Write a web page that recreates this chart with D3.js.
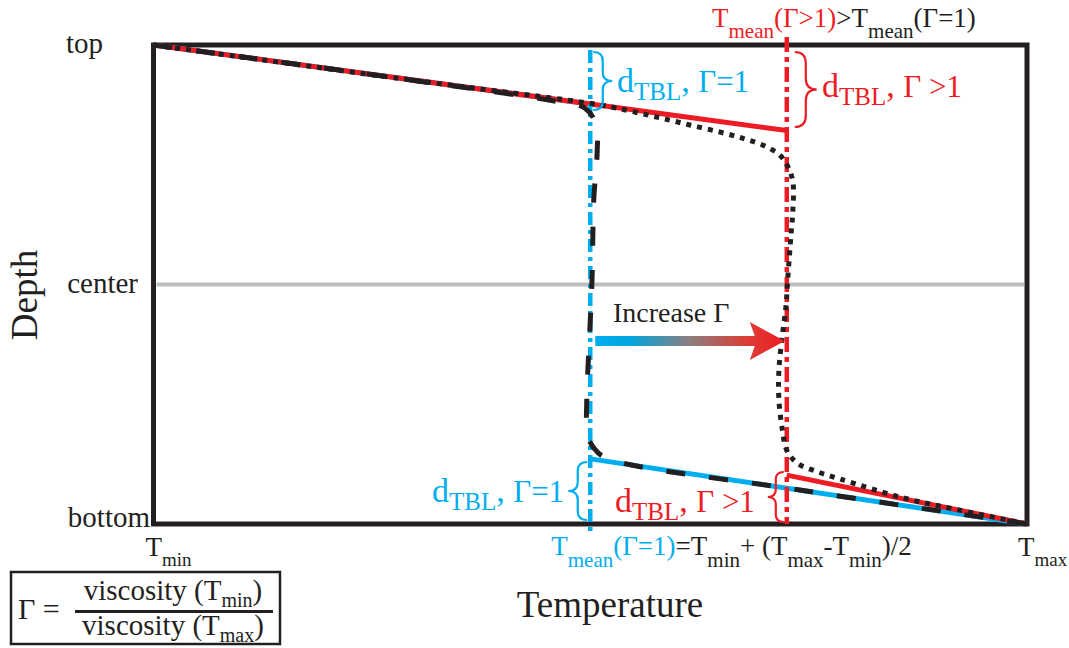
<!DOCTYPE html>
<html>
<head>
<meta charset="utf-8">
<script src="https://cdn.jsdelivr.net/npm/d3@7"></script>
<style>
  body { margin: 0; background: #fff; }
  svg { display: block; }
  text { font-family: "Liberation Serif", "Times New Roman", serif; }
</style>
</head>
<body>
<svg id="chart" width="1069" height="648"></svg>
<script>
// ---- data (temperature normalised 0 = Tmin .. 1 = Tmax, depth 0 = top .. 1 = bottom) ----
const depthTickLabels = ["top", "center", "bottom"];
const depthTickValues = [0, 0.5, 1];
const tempTickLabels = ["min", "max"];
const tempTickValues = [0, 1];

const tMeanIso = 0.5;      // mean temperature, Γ = 1
const tMeanVisc = 0.725;   // mean temperature, Γ > 1

// thermal boundary layer depths
const tblIsoTop = 0.123, tblIsoBottom = 0.864;
const tblViscTop = 0.1785, tblViscBottom = 0.898;

// temperature profile, Γ = 1 (dashed)
const isoT =     [0, 0.282, 0.465, 0.494, 0.507, 0.508, 0.504, 0.502, 0.499, 0.496, 0.497, 0.504, 0.518, 0.740, 0.923, 1];
const isoDepth = [0, 0.070, 0.119, 0.132, 0.167, 0.219, 0.324, 0.491, 0.616, 0.741, 0.814, 0.841, 0.862, 0.929, 0.979, 1];

// temperature profile, Γ > 1 (dotted)
const viscT =     [0, 0.282, 0.511, 0.546, 0.580, 0.614, 0.649, 0.677, 0.700, 0.717, 0.726, 0.732, 0.732, 0.730, 0.726, 0.724, 0.720, 0.716, 0.716, 0.720, 0.725, 0.737, 0.757, 0.786, 0.855, 0.923, 1];
const viscDepth = [0, 0.070, 0.125, 0.138, 0.152, 0.167, 0.182, 0.196, 0.211, 0.230, 0.253, 0.286, 0.344, 0.392, 0.491, 0.547, 0.605, 0.678, 0.741, 0.804, 0.846, 0.873, 0.889, 0.906, 0.944, 0.971, 1];

// ---- styling ----
const ink = "#231f20", blue = "#00aeef", red = "#ed1c24", gray = "#bcbec0";

const svg = d3.select("#chart");
const x = d3.scaleLinear().domain([0, 1]).range([153.5, 1027]);
const y = d3.scaleLinear().domain([0, 1]).range([45, 524]);

const zip = (a, b) => a.map((v, i) => [v, b[i]]);
const line = d3.line().x(d => x(d[0])).y(d => y(d[1]));
const smooth = d3.line().x(d => x(d[0])).y(d => y(d[1])).curve(d3.curveCatmullRom.alpha(0.5));

// text with sub-scripted runs
function rich(parent, px, py, segs, anchor) {
  const t = parent.append("text").attr("x", px).attr("y", py).attr("text-anchor", anchor || "start");
  let shift = 0;
  segs.forEach(s => {
    const sp = t.append("tspan").text(s.t).attr("fill", s.c || ink).attr("font-size", s.size);
    const target = s.sub || 0;
    if (target !== shift) { sp.attr("dy", target - shift); shift = target; }
  });
  return t;
}

// curly brace between y1 and y2, tip pointing along +w (right) or -w (left)
function brace(bx, y1, y2, w) {
  const ym = (y1 + y2) / 2, h = w / 2;
  const q1 = (ym - y1) * 0.3, q2 = (y2 - ym) * 0.3;
  return `M${bx},${y1} Q${bx + h},${y1} ${bx + h},${y1 + q1} L${bx + h},${ym - q1} ` +
         `Q${bx + h},${ym} ${bx + w},${ym} Q${bx + h},${ym} ${bx + h},${ym + q2} ` +
         `L${bx + h},${y2 - q2} Q${bx + h},${y2} ${bx},${y2}`;
}

// centre line
svg.append("line")
  .attr("x1", x(0) + 3).attr("x2", x(1) - 3)
  .attr("y1", y(0.5)).attr("y2", y(0.5))
  .attr("stroke", gray).attr("stroke-width", 4);

// frame
svg.append("rect")
  .attr("x", x(0)).attr("y", y(0))
  .attr("width", x(1) - x(0)).attr("height", y(1) - y(0))
  .attr("fill", "none").attr("stroke", ink).attr("stroke-width", 5);

// boundary-layer linear profiles
const tblLines = [
  { pts: [[0, 0], [tMeanIso, tblIsoTop]], c: blue },
  { pts: [[tMeanIso, tblIsoBottom], [1, 1]], c: blue },
  { pts: [[0, 0], [tMeanVisc, tblViscTop]], c: red },
  { pts: [[tMeanVisc, tblViscBottom], [1, 1]], c: red }
];
svg.selectAll("path.tbl").data(tblLines).join("path")
  .attr("class", "tbl")
  .attr("d", d => line(d.pts))
  .attr("fill", "none").attr("stroke", d => d.c).attr("stroke-width", 5);

// mean temperature lines
svg.append("line")
  .attr("x1", x(tMeanIso)).attr("x2", x(tMeanIso))
  .attr("y1", y(0) + 5).attr("y2", y(1) + 11)
  .attr("stroke", blue).attr("stroke-width", 4.5).attr("stroke-dasharray", "13,5,4,5");
svg.append("line")
  .attr("x1", x(tMeanVisc)).attr("x2", x(tMeanVisc))
  .attr("y1", y(0) - 8).attr("y2", y(1))
  .attr("stroke", red).attr("stroke-width", 4.5).attr("stroke-dasharray", "15,5,5,5");

// profiles
svg.append("path")
  .attr("d", smooth(zip(isoT, isoDepth)))
  .attr("fill", "none").attr("stroke", ink).attr("stroke-width", 5)
  .attr("stroke-dasharray", "19,24");
svg.append("path")
  .attr("d", smooth(zip(viscT, viscDepth)))
  .attr("fill", "none").attr("stroke", ink).attr("stroke-width", 5)
  .attr("stroke-dasharray", "5,6");

// "Increase Γ" arrow
const ay = 341;
const ax0 = x(tMeanIso) + 5, ax1 = x(tMeanVisc) - 2;
const grad = svg.append("defs").append("linearGradient")
  .attr("id", "arrowGrad").attr("gradientUnits", "userSpaceOnUse")
  .attr("x1", ax0).attr("x2", ax1).attr("y1", 0).attr("y2", 0);
[[0, blue], [0.18, "#00a6df"], [0.5, "#8c7e7e"], [0.8, "#dc3d36"], [1, red]].forEach(s =>
  grad.append("stop").attr("offset", s[0]).attr("stop-color", s[1]));
svg.append("path")
  .attr("d", `M${ax0},${ay - 5} L${ax1 - 30},${ay - 5} L${ax1 - 35},${ay - 19} L${ax1},${ay} ` +
             `L${ax1 - 35},${ay + 19} L${ax1 - 30},${ay + 5} L${ax0},${ay + 5} Z`)
  .attr("fill", "url(#arrowGrad)");
rich(svg, 613, 322, [{ t: "Increase Γ", size: 28 }]);

// braces
const braces = [
  { x: x(tMeanIso) + 3, y1: 52, y2: 110, w: 19, c: blue },
  { x: x(tMeanVisc) + 8, y1: 52, y2: 127, w: 22, c: red },
  { x: x(tMeanIso) - 3, y1: 462, y2: 520, w: -19, c: blue },
  { x: x(tMeanVisc) - 3, y1: 472, y2: 522, w: -16, c: red }
];
svg.selectAll("path.brace").data(braces).join("path")
  .attr("class", "brace")
  .attr("d", d => brace(d.x, d.y1, d.y2, d.w))
  .attr("fill", "none").attr("stroke", d => d.c).attr("stroke-width", 2.2);

// boundary-layer labels
const tblLabel = (px, py, c, tail) => rich(svg, px, py, [
  { t: "d", c, size: 34 }, { t: "TBL", c, size: 25, sub: 8 }, { t: ", ", c, size: 34 }, { t: tail, c, size: 31 }
]);
tblLabel(617, 92, blue, "Γ=1");
tblLabel(822, 97, red, "Γ >1");
tblLabel(432, 502, blue, "Γ=1");
tblLabel(615, 512, red, "Γ >1");

// heading
rich(svg, 712, 27, [
  { t: "T", c: red, size: 27 }, { t: "mean", c: red, size: 21, sub: 11 }, { t: "(Γ>1)", c: red, size: 27 },
  { t: ">T", size: 27 }, { t: "mean", size: 21, sub: 11 }, { t: "(Γ=1)", size: 27 }
]);

// depth ticks
const depthTickX = [103, 138, 150];
const depthTickDy = [8, 8, 3];
depthTickLabels.forEach((lab, i) =>
  rich(svg, depthTickX[i], y(depthTickValues[i]) + depthTickDy[i], [{ t: lab, size: 29 }], "end"));

// temperature ticks
const tempTickX = [x(tempTickValues[0]) - 8, x(tempTickValues[1]) - 9];
tempTickLabels.forEach((lab, i) =>
  rich(svg, tempTickX[i], 556, [{ t: "T", size: 27 }, { t: lab, size: 19, sub: 10 }]));

// mean temperature formula under the axis
rich(svg, x(tMeanIso) - 39, 555, [
  { t: "T", c: blue, size: 27 }, { t: "mean", c: blue, size: 21, sub: 12 }, { t: "(Γ=1)", c: blue, size: 27 },
  { t: "=T", size: 27 }, { t: "min", size: 21, sub: 12 }, { t: "+ (T", size: 27 }, { t: "max", size: 21, sub: 12 },
  { t: "-T", size: 27 }, { t: "min", size: 21, sub: 12 }, { t: ")/2", size: 27 }
]);

// axis titles
rich(svg, 610, 617, [{ t: "Temperature", size: 37 }], "middle");
svg.append("text")
  .attr("transform", "translate(37,295) rotate(-90)")
  .attr("text-anchor", "middle").attr("font-size", 37).attr("fill", ink)
  .text("Depth");

// viscosity contrast definition
const box = svg.append("g");
box.append("rect").attr("x", 11).attr("y", 572).attr("width", 269).attr("height", 72)
  .attr("fill", "none").attr("stroke", ink).attr("stroke-width", 2.5);
rich(box, 18, 619, [{ t: "Γ =", size: 30 }]);
box.append("line").attr("x1", 75).attr("x2", 273).attr("y1", 611.5).attr("y2", 611.5)
  .attr("stroke", ink).attr("stroke-width", 3);
rich(box, 173, 600, [{ t: "viscosity (T", size: 29 }, { t: "min", size: 20, sub: 7 }, { t: ")", size: 29 }], "middle");
rich(box, 173, 635, [{ t: "viscosity (T", size: 29 }, { t: "max", size: 20, sub: 7 }, { t: ")", size: 29 }], "middle");
</script>
</body>
</html>
